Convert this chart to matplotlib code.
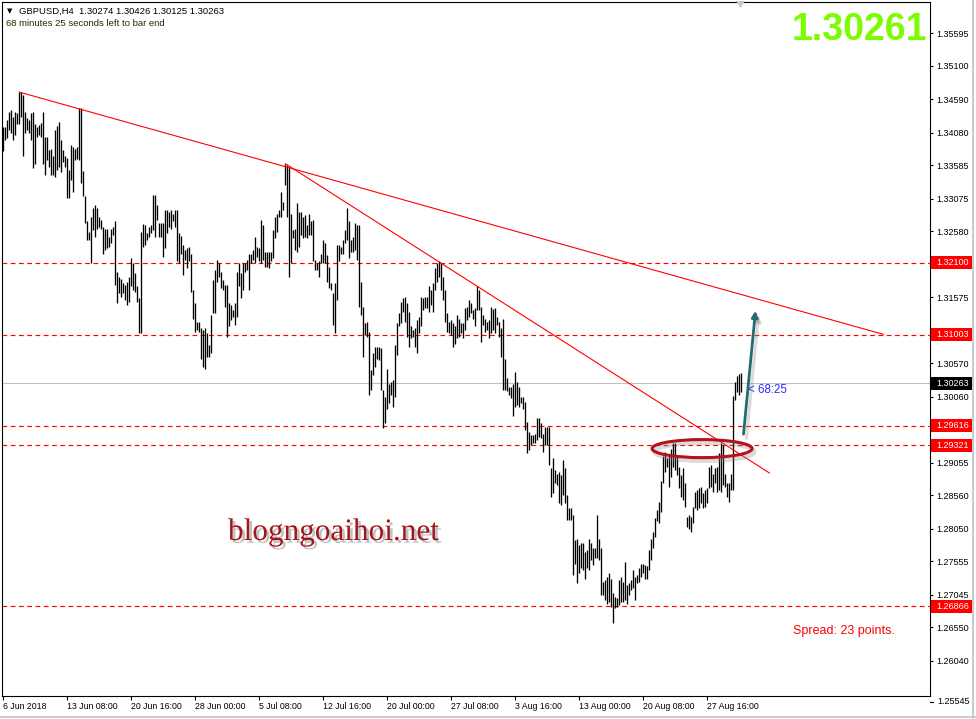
import numpy as np
import matplotlib
matplotlib.use("Agg")
import matplotlib.pyplot as plt
import matplotlib.patheffects as pe
from matplotlib import transforms
from matplotlib.patches import Ellipse, Rectangle, Polygon
from matplotlib.lines import Line2D

plt.rcParams['font.family'] = ['Liberation Sans', 'DejaVu Sans']

# ---- chart values ----
symbol = "GBPUSD,H4"
last_ohlc = [1.30274, 1.30426, 1.30125, 1.30263]
countdown_min, countdown_sec = 68, 25
big_price = "1.30261"
spread_text = "Spread: 23 points."
watermark = "blogngoaihoi.net"

# H4 bar highs / lows, 6 Jun 2018 -> 30 Aug 2018
highs = [
    1.3417, 1.3417, 1.3428, 1.3440, 1.3443, 1.3432, 1.3439, 1.3438, 1.3470, 1.3470,
    1.3465, 1.3439, 1.3430, 1.3427, 1.3438, 1.3439, 1.3422, 1.3417, 1.3420, 1.3423,
    1.3440, 1.3402, 1.3401, 1.3382, 1.3384, 1.3372, 1.3412, 1.3418, 1.3425, 1.3397,
    1.3382, 1.3372, 1.3369, 1.3351, 1.3389, 1.3387, 1.3384, 1.3387, 1.3445, 1.3445,
    1.3350, 1.3312, 1.3273, 1.3257, 1.3280, 1.3293, 1.3298, 1.3293, 1.3280, 1.3275,
    1.3265, 1.3262, 1.3262, 1.3250, 1.3262, 1.3265, 1.3273, 1.3196, 1.3189, 1.3186,
    1.3179, 1.3176, 1.3181, 1.3189, 1.3217, 1.3209, 1.3194, 1.3174, 1.3156, 1.3257,
    1.3269, 1.3268, 1.3256, 1.3265, 1.3268, 1.3313, 1.3313, 1.3298, 1.3270, 1.3270,
    1.3270, 1.3290, 1.3290, 1.3288, 1.3290, 1.3285, 1.3290, 1.3290, 1.3255, 1.3251,
    1.3237, 1.3229, 1.3232, 1.3234, 1.3224, 1.3169, 1.3148, 1.3120, 1.3120, 1.3110,
    1.3108, 1.3110, 1.3103, 1.3085, 1.3130, 1.3184, 1.3199, 1.3214, 1.3209, 1.3196,
    1.3184, 1.3176, 1.3176, 1.3148, 1.3146, 1.3138, 1.3148, 1.3196, 1.3209, 1.3194,
    1.3209, 1.3209, 1.3214, 1.3224, 1.3224, 1.3229, 1.3250, 1.3234, 1.3232, 1.3275,
    1.3268, 1.3227, 1.3227, 1.3227, 1.3227, 1.3260, 1.3280, 1.3285, 1.3290, 1.3318,
    1.3303, 1.3361, 1.3359, 1.3356, 1.3285, 1.3260, 1.3262, 1.3301, 1.3288, 1.3288,
    1.3280, 1.3283, 1.3268, 1.3285, 1.3273, 1.3275, 1.3214, 1.3209, 1.3212, 1.3224,
    1.3245, 1.3240, 1.3222, 1.3204, 1.3179, 1.3164, 1.3179, 1.3237, 1.3237, 1.3234,
    1.3245, 1.3260, 1.3293, 1.3273, 1.3245, 1.3250, 1.3270, 1.3268, 1.3268, 1.3181,
    1.3143, 1.3118, 1.3120, 1.3105, 1.3047, 1.3072, 1.3082, 1.3082, 1.3082, 1.3080,
    1.3016, 1.3006, 1.3049, 1.3026, 1.3029, 1.3031, 1.3085, 1.3118, 1.3133, 1.3151,
    1.3156, 1.3158, 1.3148, 1.3135, 1.3113, 1.3108, 1.3110, 1.3123, 1.3128, 1.3158,
    1.3156, 1.3158, 1.3158, 1.3174, 1.3169, 1.3179, 1.3202, 1.3209, 1.3212, 1.3209,
    1.3189, 1.3169, 1.3133, 1.3120, 1.3123, 1.3118, 1.3113, 1.3130, 1.3125, 1.3118,
    1.3118, 1.3141, 1.3143, 1.3153, 1.3148, 1.3138, 1.3141, 1.3174, 1.3169, 1.3143,
    1.3130, 1.3125, 1.3120, 1.3123, 1.3143, 1.3139, 1.3141, 1.3128, 1.3120, 1.3110,
    1.3125, 1.3064, 1.3034, 1.3021, 1.3021, 1.3026, 1.3044, 1.3029, 1.3021, 1.3006,
    1.3006, 1.2998, 1.2968, 1.2953, 1.2948, 1.2948, 1.2950, 1.2973, 1.2973, 1.2966,
    1.2950, 1.2960, 1.2960, 1.2960, 1.2897, 1.2912, 1.2894, 1.2889, 1.2892, 1.2887,
    1.2910, 1.2897, 1.2856, 1.2836, 1.2836, 1.2826, 1.2788, 1.2790, 1.2780, 1.2783,
    1.2783, 1.2770, 1.2773, 1.2790, 1.2783, 1.2775, 1.2775, 1.2826, 1.2790, 1.2775,
    1.2724, 1.2727, 1.2732, 1.2737, 1.2729, 1.2707, 1.2701, 1.2699, 1.2727, 1.2732,
    1.2724, 1.2755, 1.2719, 1.2722, 1.2727, 1.2742, 1.2732, 1.2734, 1.2745, 1.2752,
    1.2752, 1.2750, 1.2748, 1.2773, 1.2790, 1.2800, 1.2821, 1.2834, 1.2846, 1.2877,
    1.2915, 1.2922, 1.2912, 1.2915, 1.2927, 1.2935, 1.2935, 1.2915, 1.2899, 1.2887,
    1.2897, 1.2874, 1.2823, 1.2826, 1.2823, 1.2838, 1.2861, 1.2864, 1.2867, 1.2869,
    1.2859, 1.2864, 1.2867, 1.2899, 1.2902, 1.2889, 1.2897, 1.2899, 1.2920, 1.2935,
    1.2932, 1.2889, 1.2874, 1.2874, 1.2889, 1.3007, 1.3028, 1.3038, 1.3041, 1.30426,
]
lows = [
    1.3381, 1.3397, 1.3400, 1.3412, 1.3407, 1.3397, 1.3405, 1.3422, 1.3422, 1.3432,
    1.3372, 1.3407, 1.3412, 1.3407, 1.3397, 1.3354, 1.3361, 1.3402, 1.3405, 1.3402,
    1.3361, 1.3344, 1.3367, 1.3356, 1.3344, 1.3344, 1.3341, 1.3351, 1.3356, 1.3349,
    1.3364, 1.3356, 1.3308, 1.3308, 1.3336, 1.3318, 1.3367, 1.3368, 1.3367, 1.3331,
    1.3311, 1.3270, 1.3245, 1.3245, 1.3210, 1.3260, 1.3250, 1.3262, 1.3265, 1.3262,
    1.3224, 1.3229, 1.3232, 1.3234, 1.3240, 1.3252, 1.3176, 1.3148, 1.3164, 1.3158,
    1.3164, 1.3153, 1.3146, 1.3151, 1.3174, 1.3169, 1.3166, 1.3151, 1.3103, 1.3103,
    1.3234, 1.3237, 1.3245, 1.3250, 1.3255, 1.3260, 1.3250, 1.3275, 1.3250, 1.3250,
    1.3219, 1.3232, 1.3255, 1.3265, 1.3262, 1.3273, 1.3265, 1.3212, 1.3209, 1.3224,
    1.3191, 1.3214, 1.3202, 1.3212, 1.3166, 1.3125, 1.3105, 1.3108, 1.3105, 1.3064,
    1.3052, 1.3049, 1.3067, 1.3067, 1.3072, 1.3133, 1.3133, 1.3181, 1.3189, 1.3171,
    1.3169, 1.3143, 1.3097, 1.3113, 1.3123, 1.3128, 1.3115, 1.3128, 1.3174, 1.3156,
    1.3169, 1.3196, 1.3199, 1.3169, 1.3209, 1.3214, 1.3209, 1.3219, 1.3212, 1.3209,
    1.3214, 1.3204, 1.3204, 1.3202, 1.3212, 1.3217, 1.3247, 1.3257, 1.3280, 1.3280,
    1.3290, 1.3328, 1.3280, 1.3189, 1.3209, 1.3247, 1.3229, 1.3227, 1.3234, 1.3252,
    1.3247, 1.3250, 1.3247, 1.3252, 1.3252, 1.3212, 1.3199, 1.3199, 1.3189, 1.3209,
    1.3209, 1.3209, 1.3181, 1.3171, 1.3169, 1.3115, 1.3103, 1.3153, 1.3212, 1.3224,
    1.3224, 1.3240, 1.3245, 1.3217, 1.3227, 1.3227, 1.3229, 1.3214, 1.3143, 1.3130,
    1.3067, 1.3100, 1.3097, 1.3009, 1.3016, 1.3039, 1.3052, 1.3064, 1.3062, 1.3016,
    1.2958, 1.2966, 1.2988, 1.2996, 1.3009, 1.2991, 1.3006, 1.3070, 1.3113, 1.3118,
    1.3135, 1.3120, 1.3097, 1.3082, 1.3095, 1.3097, 1.3082, 1.3072, 1.3103, 1.3113,
    1.3138, 1.3141, 1.3141, 1.3135, 1.3146, 1.3135, 1.3169, 1.3181, 1.3189, 1.3169,
    1.3153, 1.3120, 1.3105, 1.3103, 1.3100, 1.3082, 1.3087, 1.3095, 1.3097, 1.3103,
    1.3095, 1.3108, 1.3123, 1.3128, 1.3133, 1.3125, 1.3113, 1.3138, 1.3138, 1.3090,
    1.3115, 1.3105, 1.3108, 1.3095, 1.3103, 1.3108, 1.3103, 1.3115, 1.3097, 1.3067,
    1.3016, 1.3016, 1.3014, 1.3009, 1.3004, 1.2976, 1.2991, 1.2993, 1.2991, 1.2996,
    1.2988, 1.2955, 1.2920, 1.2925, 1.2932, 1.2935, 1.2935, 1.2940, 1.2945, 1.2943,
    1.2922, 1.2932, 1.2932, 1.2902, 1.2854, 1.2859, 1.2874, 1.2872, 1.2844, 1.2841,
    1.2856, 1.2844, 1.2818, 1.2818, 1.2818, 1.2734, 1.2752, 1.2722, 1.2737, 1.2745,
    1.2742, 1.2729, 1.2745, 1.2742, 1.2757, 1.2750, 1.2760, 1.2760, 1.2757, 1.2704,
    1.2704, 1.2696, 1.2691, 1.2694, 1.2686, 1.2661, 1.2684, 1.2686, 1.2689, 1.2694,
    1.2694, 1.2696, 1.2691, 1.2704, 1.2712, 1.2714, 1.2696, 1.2722, 1.2724, 1.2732,
    1.2737, 1.2729, 1.2729, 1.2742, 1.2757, 1.2775, 1.2793, 1.2816, 1.2813, 1.2831,
    1.2874, 1.2892, 1.2899, 1.2869, 1.2884, 1.2899, 1.2894, 1.2887, 1.2867, 1.2854,
    1.2849, 1.2838, 1.2808, 1.2805, 1.2800, 1.2813, 1.2836, 1.2834, 1.2836, 1.2844,
    1.2836, 1.2838, 1.2844, 1.2867, 1.2869, 1.2861, 1.2874, 1.2861, 1.2864, 1.2861,
    1.2872, 1.2869, 1.2854, 1.2846, 1.2864, 1.2864, 1.3001, 1.3013, 1.3009, 1.30125,
]

level_prices = [1.32100, 1.31003, 1.29616, 1.29321, 1.26866]
bid_price = 1.30263

# trendlines: (bar index, price) end points
trend_long_bars = [8, 440]
trend_long_prices = [1.3470, 1.3101]
trend_short_bars = [141, 383]
trend_short_prices = [1.3361, 1.2890]

y_ticks = [1.35595, 1.35100, 1.34590, 1.34080, 1.33585, 1.33075, 1.32580,
           1.32070, 1.31575, 1.31065, 1.30570, 1.30060, 1.29565, 1.29055,
           1.28560, 1.28050, 1.27555, 1.27045, 1.26550, 1.26040]
y_bottom_label = "1.25545"

x_tick_bars = [0, 32, 64, 96, 128, 160, 192, 224, 256, 288, 320, 352]
x_tick_labels = ["6 Jun 2018", "13 Jun 08:00", "20 Jun 16:00", "28 Jun 00:00",
                 "5 Jul 08:00", "12 Jul 16:00", "20 Jul 00:00", "27 Jul 08:00",
                 "3 Aug 16:00", "13 Aug 00:00", "20 Aug 08:00", "27 Aug 16:00"]

# ---- figure ----
W, H = 976, 719
fig = plt.figure(figsize=(W / 100, H / 100), dpi=100)
fig.patch.set_facecolor('white')
ax = fig.add_axes([2 / W, 1 - 696 / H, 928 / W, 694 / H])


def fx(x):
    return x / W


def fy(y):
    return 1 - y / H


bars = np.arange(len(highs))
ax.vlines(bars, lows, highs, colors='black', linewidth=0.95, zorder=3)

for p in level_prices:
    ax.axhline(p, color='red', lw=0.85, ls=(0, (4, 3)), zorder=2)
ax.axhline(bid_price, color='#c0c0c0', lw=0.8, zorder=1)

ax.plot(trend_long_bars, trend_long_prices, color='red', lw=0.8, zorder=4)
ax.plot(trend_short_bars, trend_short_prices, color='red', lw=0.8, zorder=4)

# highlight ellipse with soft shadow
ax.add_patch(Ellipse((350.6, 1.2922), 50, 0.00275, fill=False,
                     ec='#888888', lw=3, alpha=0.3, zorder=5))
ax.add_patch(Ellipse((349.4, 1.2927), 50, 0.00275, fill=False,
                     ec='#b5121b', lw=2.2, zorder=6))

# up arrow with shadow
ax.annotate('', xy=(377.6, 1.3131), xytext=(371.6, 1.2943),
            arrowprops=dict(arrowstyle='-|>', color='#999999', lw=2.2, alpha=0.35,
                            mutation_scale=9, shrinkA=0, shrinkB=0), zorder=5)
ax.annotate('', xy=(376.1, 1.3137), xytext=(370.1, 1.2949),
            arrowprops=dict(arrowstyle='-|>', color='#236b6e', lw=2.0,
                            mutation_scale=9, shrinkA=0, shrinkB=0), zorder=6)

ax.set_xlim(-0.65, 463.35)
ax.set_ylim(1.25502, 1.36072)

for s in ax.spines.values():
    s.set_color('black')
    s.set_linewidth(0.8)

# tick labels hidden behind a level box are left blank
covered = [1.32070, 1.31065, 1.29565]
ax.yaxis.tick_right()
ax.set_yticks(y_ticks)
ax.set_yticklabels(["" if v in covered else f"{v:.5f}" for v in y_ticks])
ax.tick_params(axis='y', direction='out', length=2.5, width=0.8, pad=2.2, labelsize=6.5)
ax.set_xticks(x_tick_bars)
ax.set_xticklabels(x_tick_labels, ha='left')
ax.tick_params(axis='x', direction='out', length=3, width=0.8, pad=1.2, labelsize=6.3)

# price boxes on the right scale
blend = transforms.blended_transform_factory(fig.transFigure, ax.transData)
box_h = 0.00198
for p in level_prices + [bid_price]:
    c = 'black' if p == bid_price else 'red'
    fig.add_artist(Rectangle((fx(931), p - box_h / 2), 41 / W, box_h, transform=blend,
                             fc=c, ec='none', zorder=5))
    fig.text(fx(936), p, f"{p:.5f}", transform=blend, color='white', fontsize=6.5,
             va='center', ha='left', zorder=6)

fig.text(fx(937), fy(702), y_bottom_label, fontsize=6.5, va='center', ha='left')
fig.add_artist(Line2D([fx(930), fx(933)], [fy(702), fy(702)], color='black', lw=0.8))

# header
fig.text(fx(7), fy(11), '\u25bc', fontsize=5, family='DejaVu Sans', va='center')
fig.text(fx(19), fy(11), f"{symbol}  " + " ".join(f"{v:.5f}" for v in last_ohlc),
         fontsize=6.8, va='center')
fig.text(fx(6), fy(24), f"{countdown_min} minutes {countdown_sec} seconds left to bar end",
         fontsize=6.8, va='center', color='#2e2300')

fig.text(fx(927), fy(40), big_price, fontsize=27, weight='bold', color='#7CFC00',
         ha='right', va='baseline')

fig.text(fx(748), fy(390), f"< {countdown_min}:{countdown_sec}", fontsize=8.3,
         color='#2b2bff', va='center')

fig.text(fx(793), fy(631), spread_text, fontsize=9, color='red', va='center')

fig.text(fx(228), fy(540), watermark, fontsize=22.5, family='Liberation Serif',
         color='#a3161c', va='baseline',
         path_effects=[pe.withSimplePatchShadow(offset=(2, -2), shadow_rgbFace='#777777',
                                                alpha=0.45)])

# window borders and chart shift marker
fig.add_artist(Line2D([fx(973), fx(973)], [0, 1], color='#c5ccd4', lw=1.5))
fig.add_artist(Line2D([0, 1], [fy(717), fy(717)], color='#c5ccd4', lw=1.5))
fig.add_artist(Polygon([(fx(736), fy(1)), (fx(745), fy(1)), (fx(740.5), fy(8))],
                       closed=True, fc='#c8c8c8', ec='none'))

fig.savefig('out.png', dpi=100, facecolor='white')
